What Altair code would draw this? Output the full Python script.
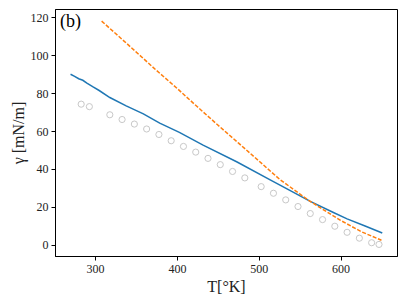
import altair as alt
import pandas as pd

# Experimental points (open circles)
T_exp = [283, 293, 318, 333, 348, 363, 378, 393, 408, 423, 438, 453, 468,
         483, 503, 518, 533, 548, 563, 578, 593, 608, 623, 638, 647]
g_exp = [74.2, 72.9, 68.6, 66.1, 63.7, 61.1, 58.2, 54.9, 51.9, 48.9, 45.6,
         42.3, 38.7, 35.3, 30.7, 27.2, 23.7, 20.2, 16.5, 13.3, 9.8, 6.6,
         3.5, 1.1, 0.2]

# Model curve (solid blue)
T_model = [270, 275, 280, 285, 290, 297, 305, 318, 338, 359, 379, 403, 432,
           473, 514, 538, 563, 590, 608, 630, 651]
g_model = [90.0, 88.9, 87.6, 86.8, 85.3, 83.4, 81.4, 77.7, 73.3, 69.1, 64.2,
           59.3, 52.6, 43.8, 34.3, 28.7, 22.9, 17.3, 13.7, 9.9, 6.2]

# Fit curve (dashed orange)
T_fit = [308, 325, 350, 375, 400, 425, 450, 475, 500, 526, 550, 563, 575,
         600, 625, 650]
g_fit = [118.0, 111.5, 101.8, 92.0, 82.6, 72.8, 63.2, 53.8, 44.3, 34.4, 26.9,
         22.9, 19.6, 12.9, 7.0, 2.4]

x_ticks = [300, 400, 500, 600]
y_ticks = [0, 20, 40, 60, 80, 100, 120]
panel_label = "(b)"

df_exp = pd.DataFrame({"T": T_exp, "g": g_exp})
df_model = pd.DataFrame({"T": T_model, "g": g_model})
df_fit = pd.DataFrame({"T": T_fit, "g": g_fit})

FONT = "Liberation Serif"

xs = alt.Scale(domain=[251, 669], nice=False, zero=False)
ys = alt.Scale(domain=[-5.9, 124.4], nice=False, zero=False)

x_axis = alt.Axis(values=x_ticks, title="T[°K]", grid=False)
y_axis = alt.Axis(values=y_ticks, title="γ [mN/m]", grid=False)

pts = alt.Chart(df_exp).mark_point(
    shape="circle", filled=False, color="#c8c8c8", size=38, strokeWidth=1, opacity=1
).encode(x=alt.X("T:Q", scale=xs, axis=x_axis), y=alt.Y("g:Q", scale=ys, axis=y_axis))

model = alt.Chart(df_model).mark_line(color="#1f77b4", strokeWidth=1.5).encode(
    x=alt.X("T:Q", scale=xs), y=alt.Y("g:Q", scale=ys)
)

fit = alt.Chart(df_fit).mark_line(
    color="#ff7f0e", strokeWidth=1.5, strokeDash=[4, 1.7]
).encode(x=alt.X("T:Q", scale=xs), y=alt.Y("g:Q", scale=ys))

label = alt.Chart(pd.DataFrame({"t": [panel_label]})).mark_text(
    align="left", baseline="middle", font=FONT, fontSize=18, color="black"
).encode(x=alt.value(5), y=alt.value(13), text="t:N")

chart = alt.layer(model, fit, pts, label).properties(
    width=342, height=247,
    autosize=alt.AutoSizeParams(type="none"),
    padding={"left": 47, "top": 1, "right": 2, "bottom": 45},
).configure_view(
    stroke="black", strokeWidth=1
).configure_axis(
    labelFont=FONT, titleFont=FONT, labelFontSize=12, titleFontSize=16,
    titleFontWeight="normal", labelColor="#222", titleColor="#222",
    domainColor="black", tickColor="black", tickSize=4, labelPadding=3,
).configure_axisX(titlePadding=4).configure_axisY(titlePadding=4)

chart.save("out.html", embed_options={"renderer": "svg", "actions": False})
